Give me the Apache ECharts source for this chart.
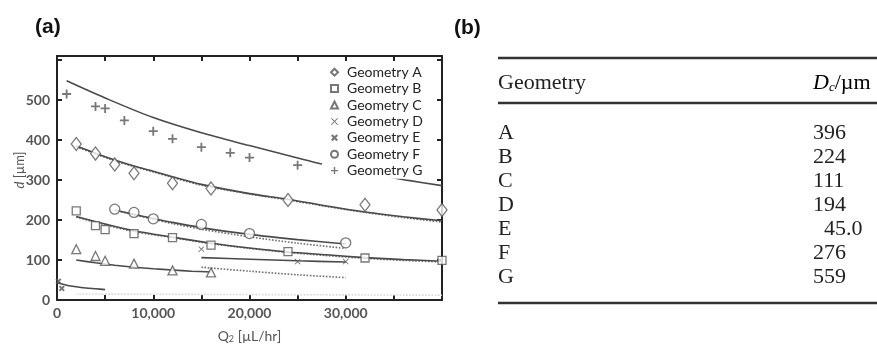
<!DOCTYPE html>
<html>
<head>
<meta charset="utf-8">
<script src="https://cdn.jsdelivr.net/npm/echarts@6/dist/echarts.min.js"></script>
<style>
  html, body { margin: 0; padding: 0; background: #fff; }
  #chart { width: 877px; height: 345px; }
</style>
</head>
<body>
<div id="chart"></div>
<script>
// Measured droplet diameters d (µm) against continuous-phase flow Q2 (µL/hr)
const geomA = [[2000,390],[4000,366],[6000,339],[8000,317],[12000,292],[16000,279],[24000,250],[32000,238],[40000,225]];
const geomB = [[2000,223],[4000,186],[5000,176],[8000,166],[12000,156],[16000,137],[24000,121],[32000,105],[40000,99]];
const geomC = [[2000,127],[4000,110],[5000,98],[8000,91],[12000,74],[16000,69]];
const geomD = [[15000,127],[25000,96],[30000,96]];
const geomE = [[150,47],[500,29]];
const geomF = [[6000,227],[8000,219],[10000,203],[15000,189],[20000,166],[30000,143]];
const geomG = [[1000,515],[4000,484],[5000,479],[7000,449],[10000,422],[12000,403],[15000,382],[18000,368],[20000,356],[25000,337]];

// Model curves (solid) and alternative model (dotted)
const fitA  = [[2000,385],[4000,367],[6000,350],[8000,335],[10000,322],[12000,308],[15000,289],[20000,266],[24000,252],[28000,235],[32000,220],[36000,208],[40000,198]];
const fitA2 = [[2000,383],[6000,348],[10000,320],[15000,287],[20000,265],[24000,250],[28000,234],[32000,219],[36000,206],[40000,195]];
const fitB  = [[2000,209],[5000,190],[8000,173],[12000,157],[16000,142],[20000,130],[24000,120],[28000,113],[32000,106],[36000,101],[40000,97]];
const fitB2 = [[2000,207],[5000,188],[8000,171],[12000,156],[16000,141],[20000,129],[24000,119],[28000,111],[32000,104],[36000,99],[40000,95]];
const fitC  = [[2000,100],[4000,93],[6000,87],[8000,82],[10000,78],[12000,75],[14000,72],[16000,70]];
const fitD  = [[15000,106],[20000,102],[25000,98],[30000,95]];
const fitD2 = [[15000,82],[20000,72],[25000,63],[30000,56]];
const fitE  = [[0,43],[1000,37],[2000,33],[3000,30],[4000,28],[5000,26]];
const fitE2 = [[2000,15],[40000,12]];
const fitF  = [[6000,225],[8000,214],[10000,204],[12000,194],[15000,181],[20000,164],[25000,151],[30000,140]];
const fitF2 = [[6000,224],[8000,213],[10000,202],[12000,191],[15000,177],[20000,158],[25000,142],[30000,129]];
const fitG  = [[1000,548],[5000,505],[10000,456],[15000,418],[20000,386],[25000,355],[27500,340],[30000,328],[33000,313],[36500,299],[40000,286]];

// Axis ticks and labels
const xMax = 40000, xTickStep = 5000, xLabelStep = 10000;
const yMax = 610, yTickStep = 100, yLabelMax = 500;

// Table (b)
const tableHeader = ['Geometry', 'D_c/µm'];
const geometryIds = ['A','B','C','D','E','F','G'];
const dcValues = [396, 224, 111, 194, 45.0, 276, 559];

const seriesNames = ['Geometry A','Geometry B','Geometry C','Geometry D','Geometry E','Geometry F','Geometry G'];
const seriesData = [geomA, geomB, geomC, geomD, geomE, geomF, geomG];

const MARK = '#555';
const OPEN = { color: '#fff', borderColor: MARK, borderWidth: 1.3 };
const SOLID = { color: MARK, borderWidth: 0 };
const PLUS = 'path://M4,0H6V4H10V6H6V10H4V6H0V4H4Z';
const XTHIN = 'path://M0,1L1,0L5,4L9,0L10,1L6,5L10,9L9,10L5,6L1,10L0,9L4,5Z';
const XBOLD = 'path://M0,2.2L2.2,0L5,2.8L7.8,0L10,2.2L7.2,5L10,7.8L7.8,10L5,7.2L2.2,10L0,7.8L2.8,5Z';

const markerStyles = [
  { symbol: 'diamond', size: [10, 13], style: OPEN },
  { symbol: 'rect', size: 8, style: OPEN },
  { symbol: 'triangle', size: 9, style: OPEN },
  { symbol: XTHIN, size: 6, style: SOLID },
  { symbol: XBOLD, size: 6, style: SOLID },
  { symbol: 'circle', size: 10, style: OPEN },
  { symbol: PLUS, size: 9, style: SOLID }
];

const series = [];
function fitLine(name, data, dotted, color) {
  series.push({
    name: name, type: 'line', data: data, smooth: 0.3, showSymbol: false,
    silent: true, z: 1,
    lineStyle: { color: color || (dotted ? '#6e6e6e' : '#4a4a4a'), width: 1.6, type: dotted ? 'dotted' : 'solid' }
  });
}
fitLine('fit A2', fitA2, true); fitLine('fit A', fitA, false);
fitLine('fit B2', fitB2, true); fitLine('fit B', fitB, false);
fitLine('fit C', fitC, false);
fitLine('fit D2', fitD2, true); fitLine('fit D', fitD, false);
fitLine('fit E2', fitE2, true, '#d6d6d6'); fitLine('fit E', fitE, false);
fitLine('fit F2', fitF2, true); fitLine('fit F', fitF, false);
fitLine('fit G', fitG, false);

seriesNames.forEach((name, i) => {
  const m = markerStyles[i];
  series.push({
    name: name, type: 'scatter', data: seriesData[i],
    symbol: m.symbol, symbolSize: m.size, itemStyle: m.style, z: 3
  });
});

// Table (b) drawn as graphic elements
const graphic = [];
const TX = 498, TR = 877, VX = 813;
const serif = '"Liberation Serif", "DejaVu Serif", serif';
[58, 103, 303].forEach(y => graphic.push({
  type: 'line', shape: { x1: TX, y1: y, x2: TR, y2: y },
  style: { stroke: '#333', lineWidth: 2.5 }
}));
graphic.push({ type: 'text', x: TX, y: 83, style: { text: tableHeader[0], font: '22px ' + serif, fill: '#222', verticalAlign: 'middle' } });
graphic.push({
  type: 'text', x: VX, y: 83,
  style: {
    text: '{i|D}{s|c}{n|/µm}', verticalAlign: 'middle',
    rich: {
      i: { fontFamily: serif, fontSize: 22, fontStyle: 'italic', color: '#222' },
      s: { fontFamily: serif, fontSize: 13, fontStyle: 'italic', color: '#222', padding: [10, 0, 0, 0] },
      n: { fontFamily: serif, fontSize: 22, color: '#222' }
    }
  }
});
const rowY0 = 133, rowStep = 24.1, digitW = 11;
geometryIds.forEach((g, i) => {
  const y = rowY0 + i * rowStep;
  const v = dcValues[i];
  const txt = v < 100 ? v.toFixed(1) : String(v);
  const intLen = String(Math.floor(v)).length;
  graphic.push({ type: 'text', x: TX, y: y, style: { text: g, font: '22px ' + serif, fill: '#222', verticalAlign: 'middle' } });
  graphic.push({ type: 'text', x: VX + (3 - intLen) * digitW, y: y, style: { text: txt, font: '22px ' + serif, fill: '#222', verticalAlign: 'middle' } });
});
// Panel letters
graphic.push({ type: 'text', x: 35, y: 27, style: { text: '(a)', font: 'bold 21px "Liberation Sans", Arial, sans-serif', fill: '#111', verticalAlign: 'middle' } });
graphic.push({ type: 'text', x: 454, y: 28, style: { text: '(b)', font: 'bold 21px "Liberation Sans", Arial, sans-serif', fill: '#111', verticalAlign: 'middle' } });

const sans = 'Lato, "Open Sans", sans-serif';
const axisLine = { show: true, onZero: false, lineStyle: { color: '#222', width: 2 } };
const axisTick = { show: true, inside: true, length: 5, lineStyle: { color: '#222', width: 2 } };
const labelFont = { fontFamily: sans, fontSize: 14, fontWeight: 'bold', color: '#555' };

const option = {
  animation: false,
  backgroundColor: '#fff',
  grid: { left: 57, right: 435, top: 56, bottom: 45, containLabel: false, outerBoundsMode: 'none' },
  legend: {
    data: seriesNames,
    orient: 'vertical', left: 322, top: 63,
    backgroundColor: '#fff',
    padding: [1, 6, 0, 8],
    itemGap: 0, itemWidth: 7, itemHeight: 7,
    textStyle: { fontFamily: sans, fontSize: 14, color: '#222', lineHeight: 16.4, padding: [0, 0, 0, 4] },
    selectedMode: false
  },
  xAxis: [{
    type: 'value', min: 0, max: xMax, interval: xTickStep,
    name: '{q|Q}{s|2} [µL/hr]', nameLocation: 'middle', nameGap: 29, nameMoveOverlap: false,
    nameTextStyle: { fontFamily: sans, fontSize: 14, color: '#555',
      rich: { q: { fontFamily: sans, fontSize: 14, color: '#555' }, s: { fontFamily: sans, fontSize: 9, color: '#555', padding: [6, 0, 0, 0] } } },
    axisLine: axisLine, axisTick: axisTick, splitLine: { show: false },
    axisLabel: Object.assign({ margin: 6,
      formatter: v => (v % xLabelStep === 0 && v < xMax) ? v.toLocaleString('en-US') : '' }, labelFont)
  }, {
    type: 'value', position: 'top', min: 0, max: xMax, interval: xTickStep,
    axisLine: axisLine, axisTick: axisTick, axisLabel: { show: false }, splitLine: { show: false }
  }],
  yAxis: [{
    type: 'value', min: 0, max: yMax, interval: yTickStep,
    name: '{i|d} [µm]', nameLocation: 'middle', nameGap: 31, nameRotate: 90, nameMoveOverlap: false,
    nameTextStyle: { fontFamily: sans, fontSize: 13, color: '#555', padding: [0, 0, 0, 16],
      rich: { i: { fontFamily: sans, fontSize: 13, fontStyle: 'italic', color: '#555' } } },
    axisLine: axisLine, axisTick: axisTick, splitLine: { show: false },
    axisLabel: Object.assign({ margin: 7, formatter: v => v <= yLabelMax ? String(v) : '' }, labelFont)
  }, {
    type: 'value', position: 'right', min: 0, max: yMax, interval: yTickStep,
    axisLine: axisLine, axisTick: axisTick, axisLabel: { show: false }, splitLine: { show: false }
  }],
  graphic: graphic,
  series: series
};

const chart = echarts.init(document.getElementById('chart'), null, { renderer: 'canvas' });
chart.setOption(option);
</script>
</body>
</html>
